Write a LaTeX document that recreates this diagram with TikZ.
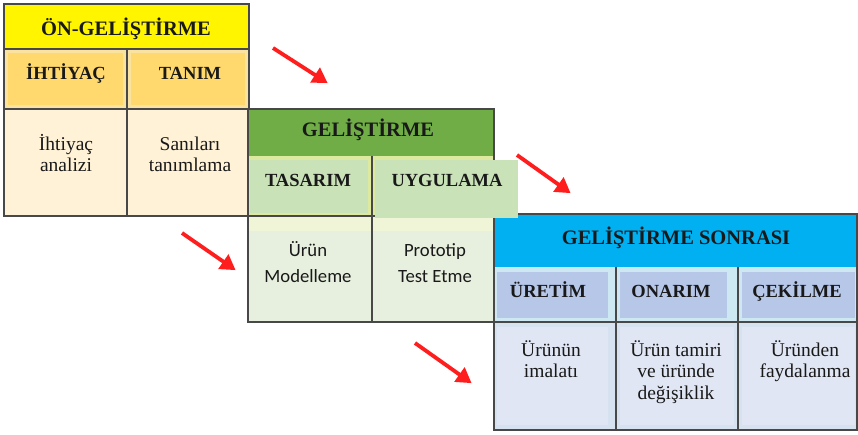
\documentclass[tikz,border=0pt]{standalone}
\usepackage{fontspec}
\setmainfont{Liberation Serif}
\newfontfamily\bodysans{Carlito}
\usetikzlibrary{arrows.meta}

% phase colours
\definecolor{preTitle}{RGB}{255,245,0}
\definecolor{preRow}{RGB}{250,226,160}
\definecolor{preCell}{RGB}{255,216,110}
\definecolor{preBody}{RGB}{255,242,214}
\definecolor{devTitle}{RGB}{112,173,71}
\definecolor{devRow}{RGB}{222,233,160}
\definecolor{devCell}{RGB}{201,226,184}
\definecolor{devStrip}{RGB}{241,245,216}
\definecolor{devBody}{RGB}{231,240,222}
\definecolor{postTitle}{RGB}{0,176,240}
\definecolor{postRow}{RGB}{205,232,242}
\definecolor{postCell}{RGB}{182,199,232}
\definecolor{postBody}{RGB}{214,226,240}
\definecolor{postBodyCell}{RGB}{224,230,243}
\definecolor{frame}{RGB}{72,72,72}
\definecolor{ink}{RGB}{25,25,25}
\definecolor{arrowRed}{RGB}{255,30,30}

% multi-line notes are placed by the baseline of their last line
\tikzset{
  phasetitle/.style={font=\fontsize{20.5}{23}\selectfont\bfseries, text=ink, anchor=base, inner sep=0pt},
  phasestep/.style={font=\fontsize{18.5}{21}\selectfont\bfseries, text=ink, anchor=base, inner sep=0pt},
  stepnote/.style={font=\fontsize{19.5}{21.5}\selectfont, text=ink, align=center, anchor=base, inner sep=0pt},
  stepnotesans/.style={font=\bodysans\fontsize{18.7}{25.5}\selectfont, text=ink, align=center, anchor=base, inner sep=0pt},
  framed/.style={draw=frame, line width=1.5pt},
  flow/.style={draw=arrowRed, line width=3.8pt,
    -{Triangle[length=15pt,width=17pt]}, shorten >=-2pt},
}

\begin{document}
\begin{tikzpicture}[x=1pt,y=-1pt]
\useasboundingbox (0,0) rectangle (858,435);
\fill[white] (0,0) rectangle (858,435);

% ---------- ÖN-GELİŞTİRME ----------
\fill[preTitle] (4,4) rectangle (249,49);
\fill[preRow] (4,49) rectangle (249,109);
\fill[preCell] (8,53) rectangle (123,105);
\fill[preCell] (131,53) rectangle (245,105);
\fill[preBody] (4,109) rectangle (249,216);
\draw[framed] (4,4) rectangle (249,216);
\draw[framed] (4,49) -- (249,49);
\draw[framed] (4,109) -- (249,109);
\draw[framed] (127,49) -- (127,216);

\node[phasetitle] (pre) at (126,36) {ÖN-GELİŞTİRME};
\node[phasestep] (need) at (66,80) {İHTİYAÇ};
\node[phasestep] (define) at (190,80) {TANIM};
\node[stepnote] (needtxt) at (66,172) {İhtiyaç\\analizi};
\node[stepnote] (definetxt) at (190,172) {Sanıları\\tanımlama};

% ---------- GELİŞTİRME ----------
\fill[devTitle] (248,109) rectangle (494,156);
\fill[devRow] (248,156) rectangle (494,216);
\fill[devCell] (250,160) rectangle (368,213);
\fill[devStrip] (248,216) rectangle (494,231);
\fill[devBody] (248,231) rectangle (494,322);
\draw[framed] (248,109) rectangle (494,322);
\draw[framed] (248,216) -- (494,216);
\draw[framed] (372,156) -- (372,322);

% ---------- GELİŞTİRME SONRASI ----------
\fill[postTitle] (494,214) rectangle (857,267);
\fill[postRow] (494,267) rectangle (857,322);
\fill[postCell] (497,272) rectangle (608,318);
\fill[postCell] (620,272) rectangle (727,318);
\fill[postCell] (742,272) rectangle (855,318);
\fill[postBody] (494,322) rectangle (857,430);
\fill[postBodyCell] (497,327) rectangle (608,425);
\fill[postBodyCell] (620,327) rectangle (734,425);
\fill[postBodyCell] (742,327) rectangle (855,425);
\draw[framed] (494,214) rectangle (857,430);
\draw[framed] (494,322) -- (857,322);
\draw[framed] (616,267) -- (616,430);
\draw[framed] (738,267) -- (738,430);

% UYGULAMA cell lies over the corner of the next phase
\fill[devCell] (375,160) rectangle (518,218);

\node[phasetitle] (dev) at (368,137) {GELİŞTİRME};
\node[phasestep] (design) at (308,187) {TASARIM};
\node[phasestep] (impl) at (447,187) {UYGULAMA};
\node[stepnotesans] (designtxt) at (308,282) {Ürün\\Modelleme};
\node[stepnotesans] (impltxt) at (435,282) {Prototip\\Test Etme};

\node[phasetitle] (post) at (676,245) {GELİŞTİRME SONRASI};
\node[phasestep] (prod) at (548,298) {ÜRETİM};
\node[phasestep] (repair) at (671,298) {ONARIM};
\node[phasestep] (retire) at (797,298) {ÇEKİLME};
\node[stepnote] (prodtxt) at (551,377.5) {Ürünün\\imalatı};
\node[stepnote] (repairtxt) at (676,399) {Ürün tamiri\\ve üründe\\değişiklik};
\node[stepnote] (retiretxt) at (805,377.5) {Üründen\\faydalanma};

% ---------- flow arrows ----------
\coordinate (f1a) at (273,48);  \coordinate (f1b) at (326,82);
\coordinate (f2a) at (182,233); \coordinate (f2b) at (234,269);
\coordinate (f3a) at (415,343); \coordinate (f3b) at (470,382);
\coordinate (f4a) at (517,155); \coordinate (f4b) at (569,192);
\draw[flow] (f1a) -- (f1b);
\draw[flow] (f2a) -- (f2b);
\draw[flow] (f3a) -- (f3b);
\draw[flow] (f4a) -- (f4b);
\end{tikzpicture}
\end{document}
